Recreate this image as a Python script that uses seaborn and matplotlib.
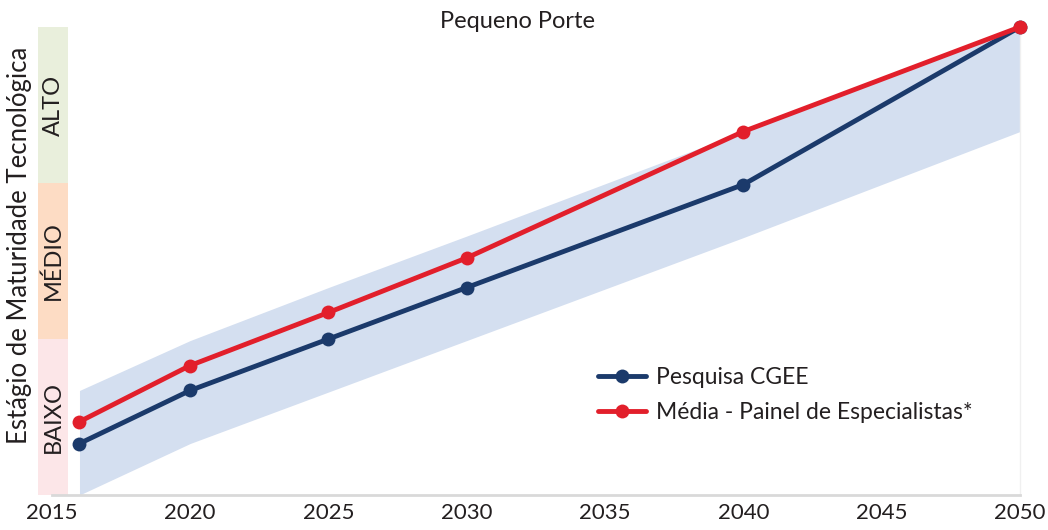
import matplotlib
matplotlib.use("Agg")
import matplotlib.pyplot as plt
import seaborn as sns
import pandas as pd

# data (y: 0 = bottom of BAIXO, 3 = top of ALTO)
years = [2016, 2020, 2025, 2030, 2040, 2050]
cgee = [0.33, 0.67, 1.00, 1.33, 1.99, 3.00]
painel = [0.47, 0.83, 1.17, 1.52, 2.33, 3.00]
band_low = [0.00, 0.33, 0.66, 0.99, 1.65, 2.33]
band_high = [0.67, 0.99, 1.33, 1.66, 2.33, 3.00]
series_names = ["Pesquisa CGEE", "Média - Painel de Especialistas*"]
stages = ["BAIXO", "MÉDIO", "ALTO"]
xticks = [2015, 2020, 2025, 2030, 2035, 2040, 2045, 2050]

blue = "#1b3a6b"
red = "#e21f2b"
stage_colors = ["#fce6e8", "#fddcc4", "#e9efdc"]

df = pd.concat([
    pd.DataFrame({"ano": years, "valor": cgee, "serie": series_names[0]}),
    pd.DataFrame({"ano": years, "valor": painel, "serie": series_names[1]}),
])

sns.set_theme(style="white")
plt.rcParams['font.family'] = ['Lato', 'DejaVu Sans']
txt = "#231f20"

fig = plt.figure(figsize=(10.48, 5.30), dpi=100)
ax = fig.add_axes([38 / 1048, 35 / 530, 982 / 1048, 468 / 530])

ax.fill_between(years, band_low, band_high, color="#d4dff0", lw=0, zorder=1)

sns.lineplot(data=df, x="ano", y="valor", hue="serie", palette=[blue, red],
             marker="o", markersize=10, markeredgewidth=0, linewidth=3.5,
             ax=ax, zorder=3, clip_on=False)

# stage bands on the left
for i, (name, c) in enumerate(zip(stages, stage_colors)):
    ax.axvspan(2014.5, 2015.58, ymin=i / 3, ymax=(i + 1) / 3, color=c, lw=0, zorder=0)
    ax.text(2015.04, i + 0.5, name, rotation=90, ha="center", va="center",
            fontsize=17, color=txt)

ax.set_xlim(2014.5, 2050)
ax.set_ylim(0, 3)
ax.set_xticks(xticks)
ax.set_xticklabels([str(x) for x in xticks], fontsize=16, color=txt)
ax.tick_params(axis="x", length=0, pad=6)
ax.set_yticks([])
ax.set_xlabel("")
ax.set_ylabel("")
for s in ["top", "left"]:
    ax.spines[s].set_visible(False)
ax.spines["bottom"].set_bounds(2015, 2050)
ax.spines["bottom"].set_color("#d9d9d9")
ax.spines["bottom"].set_linewidth(2)
ax.spines["right"].set_color("#f0f0f0")
ax.spines["right"].set_linewidth(1)

fig.text(20 / 1048, 1 - 245 / 530, "Estágio de Maturidade Tecnológica", rotation=90,
         ha="center", va="center", fontsize=18.5, color=txt)
fig.text(517 / 1048, 1 - 22 / 530, "Pequeno Porte", ha="center", va="center",
         fontsize=17, color=txt)

leg = ax.legend(loc="upper left", bbox_to_anchor=(0.549, 0.318), frameon=False,
                fontsize=16.5, handlelength=2.1, labelspacing=0.62, handletextpad=0.45)
for t in leg.get_texts():
    t.set_color(txt)

fig.savefig("out.png", dpi=100)
